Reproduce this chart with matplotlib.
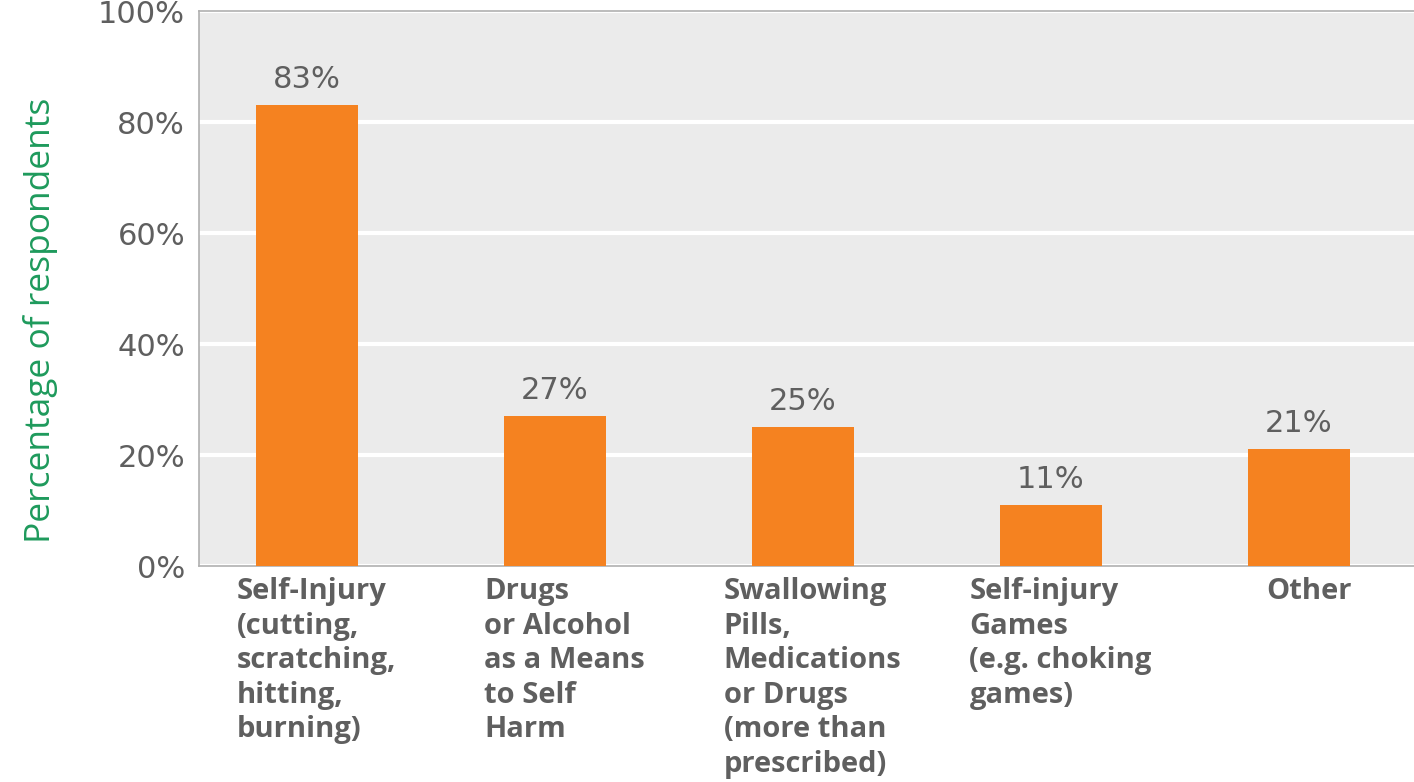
import matplotlib.pyplot as plt

categories = [
    "Self-Injury\n(cutting,\nscratching,\nhitting,\nburning)",
    "Drugs\nor Alcohol\nas a Means\nto Self\nHarm",
    "Swallowing\nPills,\nMedications\nor Drugs\n(more than\nprescribed)",
    "Self-injury\nGames\n(e.g. choking\ngames)",
    "Other",
]
values = [83, 27, 25, 11, 21]
yticks = [0, 20, 40, 60, 80, 100]

BAR_COLOR = "#f58220"
TEXT_GRAY = "#5f5f5f"
GREEN = "#1e9a5c"

plt.rcParams['font.family'] = ['Open Sans', 'DejaVu Sans']

fig = plt.figure(figsize=(14.14, 7.82), dpi=100)
ax = fig.add_axes([199 / 1414, 1 - 566 / 782, (1414 - 199) / 1414, (566 - 11) / 782])
ax.set_facecolor("#ebebeb")

x = list(range(len(categories)))
ax.bar(x, values, width=0.41, color=BAR_COLOR, zorder=3)

# value labels above the bars
for i, v in zip(x, values):
    ax.text(i, v + 2, f"{v}%", ha='center', va='bottom', fontsize=22,
            family='DejaVu Sans', color=TEXT_GRAY, zorder=4)

ax.set_ylim(0, 100)
ax.set_xlim(-0.435, 4.465)
ax.set_yticks(yticks)
ax.set_yticklabels([f"{t}%" for t in yticks], fontsize=22, family='DejaVu Sans', color=TEXT_GRAY)
ax.yaxis.grid(True, color="white", linewidth=3, zorder=1)
ax.set_axisbelow(True)

ax.set_xticks([i + 0.04 for i in x])
ax.set_xticklabels(categories, fontsize=21, fontweight='bold', color=TEXT_GRAY,
                   ha='center', va='top', multialignment='left', linespacing=1.25)
ax.tick_params(axis='both', length=0)
ax.tick_params(axis='x', pad=8)
ax.tick_params(axis='y', pad=10)

ax.set_ylabel("Percentage of respondents", fontsize=25.5, color=GREEN)
ax.yaxis.set_label_coords(-0.116, 0.443)

for side in ['left', 'top', 'bottom']:
    ax.spines[side].set_color("#b0b0b0")
    ax.spines[side].set_linewidth(1.2)
ax.spines['right'].set_visible(False)

plt.savefig("out.png", dpi=100)
plt.close(fig)
